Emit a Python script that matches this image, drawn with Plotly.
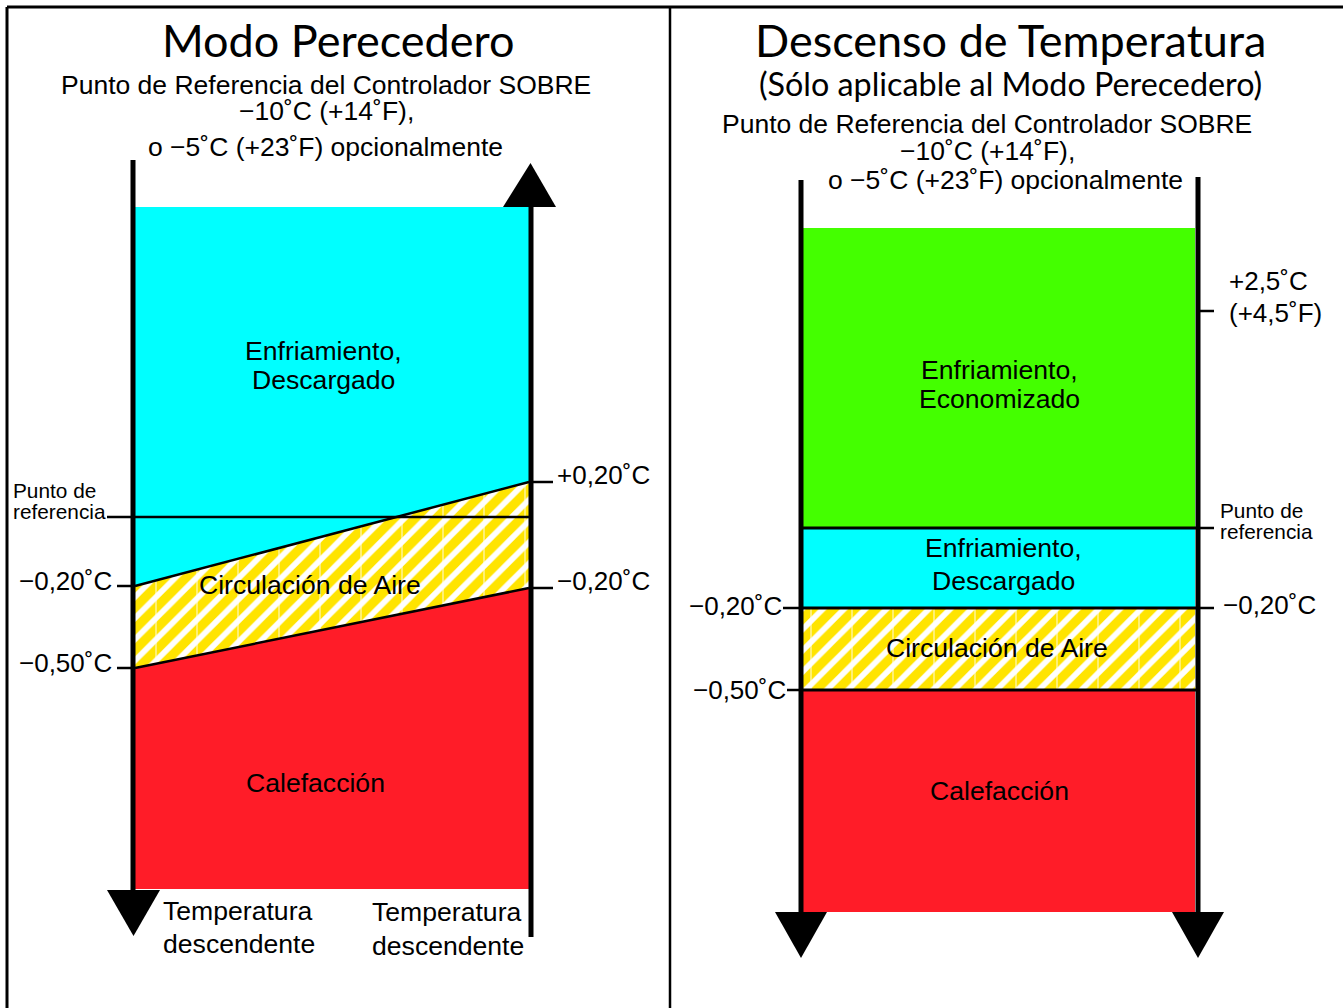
import plotly.graph_objects as go

W, H = 1343, 1008

# ---------------- data: texts / labels ----------------
left_title = "Modo Perecedero"
right_title = "Descenso de Temperatura"
right_subtitle = "(Sólo aplicable al Modo Perecedero)"
controller_lines = ["Punto de Referencia del Controlador SOBRE",
                    "−10˚C (+14˚F),",
                    "o −5˚C (+23˚F) opcionalmente"]
left_zone_labels = [["Enfriamiento,", "Descargado"], ["Circulación de Aire"], ["Calefacción"]]
right_zone_labels = [["Enfriamiento,", "Economizado"], ["Enfriamiento,", "Descargado"],
                     ["Circulación de Aire"], ["Calefacción"]]
left_ticks_left = ["−0,20˚C", "−0,50˚C"]
left_ticks_right = ["+0,20˚C", "−0,20˚C"]
right_ticks_left = ["−0,20˚C", "−0,50˚C"]
right_ticks_right = [["+2,5˚C", "(+4,5˚F)"], ["Punto de", "referencia"], ["−0,20˚C"]]
setpoint_label = ["Punto de", "referencia"]
axis_label = ["Temperatura", "descendente"]

COL_COOL = "#00FFFF"
COL_ECON = "#44FF00"
COL_HEAT = "#FF1C28"
COL_HATCH = "#FFE400"

# ---------------- layout geometry (pixel space of the diagram) ----------------
L = dict(xl=133, xr=531, f0=135, f1=529,
         top=207, bottom=889,
         upper=(586, 482), lower=(668, 588), setpoint=517)
R = dict(xl=801, xr=1198, f0=803, f1=1195,
         bounds=[228, 528, 608, 690, 912], tick25=311)

SANS = "Liberation Sans, Arial, Helvetica, sans-serif"
TITLE = "Lato, Open Sans, sans-serif"
ZS = 26.6   # zone label size
TS = 26     # tick label size
CS = 26.5   # controller text size

fig = go.Figure()


def poly(xs, ys, color, pattern=None):
    kw = dict(x=list(xs) + [xs[0]], y=list(ys) + [ys[0]], mode="lines", fill="toself",
              line=dict(width=0, color=color), fillcolor=color, hoverinfo="skip", showlegend=False)
    if pattern:
        kw["fillpattern"] = pattern
    fig.add_trace(go.Scatter(**kw))


def line(xs, ys, w=2.5, color="black"):
    fig.add_trace(go.Scatter(x=xs, y=ys, mode="lines", line=dict(width=w, color=color),
                             hoverinfo="skip", showlegend=False))


def text(x, y, s, size=ZS, anchor="center", family=SANS):
    fig.add_annotation(x=x, y=y, xref="x", yref="y", text=s, showarrow=False,
                       xanchor=anchor, yanchor="middle",
                       font=dict(family=family, size=size, color="black"))


hatch = dict(shape="/", fgcolor=COL_HATCH, bgcolor="white", size=15, solidity=0.62, fgopacity=1)

# ---------------- LEFT PANEL ----------------
f0, f1 = L["f0"], L["f1"]
poly([f0, f1, f1, f0], [L["top"], L["top"], L["upper"][1], L["upper"][0]], COL_COOL)
poly([f0, f1, f1, f0], [L["upper"][0], L["upper"][1], L["lower"][1], L["lower"][0]], "white", hatch)
poly([f0, f1, f1, f0], [L["lower"][0], L["lower"][1], L["bottom"], L["bottom"]], COL_HEAT)


def interp(x, a, b):
    return a + (b - a) * (x - f0) / (f1 - f0)

# faint white seams in hatch
xv = 156
while xv < f1:
    line([xv, xv], [interp(xv, *L["upper"]), interp(xv, *L["lower"])], w=1, color="rgba(255,255,255,0.9)")
    xv += 41

line([f0, f1], list(L["upper"]), w=2.5)
line([f0, f1], list(L["lower"]), w=2.5)
line([107, L["xr"]], [L["setpoint"], L["setpoint"]], w=2.5)

# axes
line([L["xl"], L["xl"]], [160, 893], w=5)
line([L["xr"], L["xr"]], [204, 937], w=5)
poly([107, 160, 133.5], [890, 890, 936], "black")
poly([503, 556, 530.5], [207, 207, 163], "black")

# ticks
for yy in [L["upper"][0], L["lower"][0]]:
    line([117, L["xl"]], [yy, yy], w=2.5)
for yy in [L["upper"][1], L["lower"][1]]:
    line([L["xr"], 553], [yy, yy], w=2.5)

# labels
text(338, 40, left_title, size=45, family=TITLE)
text(326, 85, controller_lines[0], size=CS)
text(326, 111, controller_lines[1], size=CS)
text(325, 147, controller_lines[2], size=CS)
text(11, 490, setpoint_label[0], size=20.8, anchor="left")
text(11, 511, setpoint_label[1], size=20.8, anchor="left")
text(114, 581, left_ticks_left[0], size=TS, anchor="right")
text(114, 663, left_ticks_left[1], size=TS, anchor="right")
text(555, 475, left_ticks_right[0], size=TS, anchor="left")
text(555, 581, left_ticks_right[1], size=TS, anchor="left")
text(323, 351, left_zone_labels[0][0])
text(323, 380, left_zone_labels[0][1])
text(310, 585, left_zone_labels[1][0])
text(315, 783, left_zone_labels[2][0])
text(161, 911, axis_label[0], anchor="left")
text(161, 944, axis_label[1], anchor="left")
text(370, 912, axis_label[0], anchor="left")
text(370, 946, axis_label[1], anchor="left")

# ---------------- RIGHT PANEL ----------------
g0, g1 = R["f0"], R["f1"]
b = R["bounds"]
poly([g0, g1, g1, g0], [b[0], b[0], b[1], b[1]], COL_ECON)
poly([g0, g1, g1, g0], [b[1], b[1], b[2], b[2]], COL_COOL)
poly([g0, g1, g1, g0], [b[2], b[2], b[3], b[3]], "white", hatch)
poly([g0, g1, g1, g0], [b[3], b[3], b[4], b[4]], COL_HEAT)
xv = 811
while xv < g1:
    line([xv, xv], [b[2], b[3]], w=1, color="rgba(255,255,255,0.9)")
    xv += 41
for yy in b[1:4]:
    line([R["xl"], R["xr"]], [yy, yy], w=3)

line([R["xl"], R["xl"]], [180, 914], w=5)
line([R["xr"], R["xr"]], [177, 914], w=5)
poly([775, 827, 801], [912, 912, 958], "black")
poly([1172, 1224, 1198], [912, 912, 958], "black")

line([783, R["xl"]], [b[2], b[2]], w=2.5)
line([787, R["xl"]], [b[3], b[3]], w=2.5)
for yy in [R["tick25"], b[1], b[2]]:
    line([R["xr"], 1214], [yy, yy], w=2.5)

text(1010, 40, right_title, size=45, family=TITLE)
text(1010, 83, right_subtitle, size=32.3, family=TITLE)
text(987, 124, controller_lines[0], size=CS)
text(987, 151, controller_lines[1], size=CS)
text(1005, 180, controller_lines[2], size=CS)
text(1227, 281, right_ticks_right[0][0], size=TS, anchor="left")
text(1227, 313, right_ticks_right[0][1], size=TS, anchor="left")
text(1218, 510, right_ticks_right[1][0], size=20.8, anchor="left")
text(1218, 531, right_ticks_right[1][1], size=20.8, anchor="left")
text(1221, 605, right_ticks_right[2][0], size=TS, anchor="left")
text(784, 606, right_ticks_left[0], size=TS, anchor="right")
text(788, 690, right_ticks_left[1], size=TS, anchor="right")
text(999, 370, right_zone_labels[0][0])
text(999, 399, right_zone_labels[0][1])
text(1003, 548, right_zone_labels[1][0])
text(1003, 581, right_zone_labels[1][1])
text(997, 648, right_zone_labels[2][0])
text(999, 791, right_zone_labels[3][0])

# ---------------- frame ----------------
line([7, 7], [7, H], w=3)
line([7, W], [7, 7], w=3)
line([670, 670], [7, H], w=2.5)

fig.update_layout(width=W, height=H, margin=dict(l=0, r=0, t=0, b=0),
                  paper_bgcolor="white", plot_bgcolor="white", showlegend=False,
                  xaxis=dict(range=[0, W], visible=False, fixedrange=True),
                  yaxis=dict(range=[H, 0], visible=False, fixedrange=True))

fig.write_html("out.html", post_script="document.body.style.margin='0';document.body.style.overflow='hidden';",
               config={"displayModeBar": False})
